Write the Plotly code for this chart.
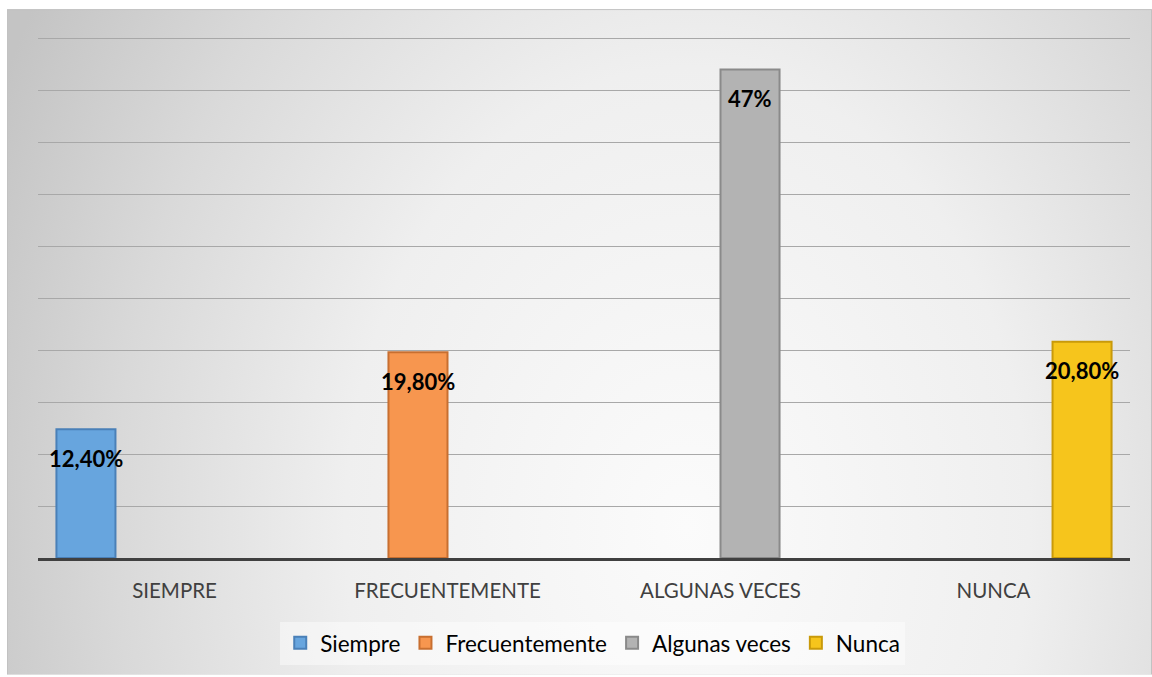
import base64

import plotly.graph_objects as go

categories = ["SIEMPRE", "FRECUENTEMENTE", "ALGUNAS VECES", "NUNCA"]
series_names = ["Siempre", "Frecuentemente", "Algunas veces", "Nunca"]
values = [12.4, 19.8, 47.0, 20.8]
value_labels = ["12,40%", "19,80%", "47%", "20,80%"]
bar_colors = ["#67a5de", "#f7964f", "#b3b3b3", "#f6c51c"]
edge_colors = ["#4a80b8", "#c86f30", "#8a8a8a", "#c99a0a"]

W, H = 1152, 677
L, R, T, B = 38, 22, 28, 117
Y_MAX = 51  # one unit of headroom so the 50% gridline is drawn
BARGAP = 0.135
FONT = "Lato, Calibri, sans-serif"

# radial background of the chart frame, as an inline svg
bg_svg = f"""<svg xmlns='http://www.w3.org/2000/svg' width='{W - 7}' height='{H - 9}'>
<defs><radialGradient id='g' gradientUnits='userSpaceOnUse' cx='680' cy='520' r='760'
 gradientTransform='translate(680 520) scale(1 1.35) translate(-680 -520)'>
<stop offset='0' stop-color='#fbfbfb'/><stop offset='0.45' stop-color='#efefef'/>
<stop offset='0.75' stop-color='#d9d9d9'/><stop offset='1' stop-color='#c4c4c4'/>
</radialGradient></defs>
<rect x='0.5' y='0.5' width='{W - 8}' height='{H - 9}' fill='url(#g)' stroke='#c2c2c2'/>
</svg>"""
bg_src = "data:image/svg+xml;base64," + base64.b64encode(bg_svg.encode()).decode()

pw, ph = W - L - R, H - T - B

fig = go.Figure()
for i, name in enumerate(series_names):
    fig.add_trace(go.Bar(
        x=[categories[i]], y=[values[i]], name=name, offsetgroup=str(i),
        marker=dict(color=bar_colors[i], line=dict(color=edge_colors[i], width=2)),
        hoverinfo="skip",
    ))

# data labels sit just inside the top of each bar
n = len(series_names)
bw = (1 - BARGAP) / n
for i, lab in enumerate(value_labels):
    fig.add_annotation(
        x=i - (1 - BARGAP) / 2 + bw * (i + 0.5), y=values[i], xref="x", yref="y",
        text=f"<b>{lab}</b>", showarrow=False, yanchor="middle", yshift=-29,
        font=dict(size=22, color="#000000", family=FONT),
    )

fig.add_layout_image(
    source=bg_src, xref="paper", yref="paper",
    x=(7 - L) / pw, y=(H - B - 9) / ph,
    sizex=(W - 7) / pw, sizey=(H - 9) / ph,
    sizing="stretch", xanchor="left", yanchor="top", layer="below",
)

fig.update_layout(
    width=W, height=H,
    margin=dict(l=L, r=R, t=T, b=B),
    paper_bgcolor="#ffffff", plot_bgcolor="rgba(0,0,0,0)",
    barmode="group", bargap=BARGAP, bargroupgap=0,
    font=dict(family=FONT, size=20, color="#404040"),
    showlegend=True,
    legend=dict(
        orientation="h", x=0.508, xanchor="center", y=-0.12, yanchor="top",
        bgcolor="rgba(255,255,255,0.45)", font=dict(size=22.5, color="#000000"),
        itemwidth=30, traceorder="normal",
    ),
)
fig.update_xaxes(
    type="category", categoryorder="array", categoryarray=categories,
    showline=True, linecolor="#404040", linewidth=3, ticks="", ticklabelstandoff=12,
    showgrid=False, tickfont=dict(size=20.5, color="#404040"),
)
fig.update_yaxes(
    range=[0, Y_MAX], dtick=5, showticklabels=False, showgrid=True,
    gridcolor="#a8a8a8", gridwidth=1, zeroline=False, showline=False,
)

fig.write_html("out.html", config={"displayModeBar": False},
               post_script="document.body.style.margin='0';")
